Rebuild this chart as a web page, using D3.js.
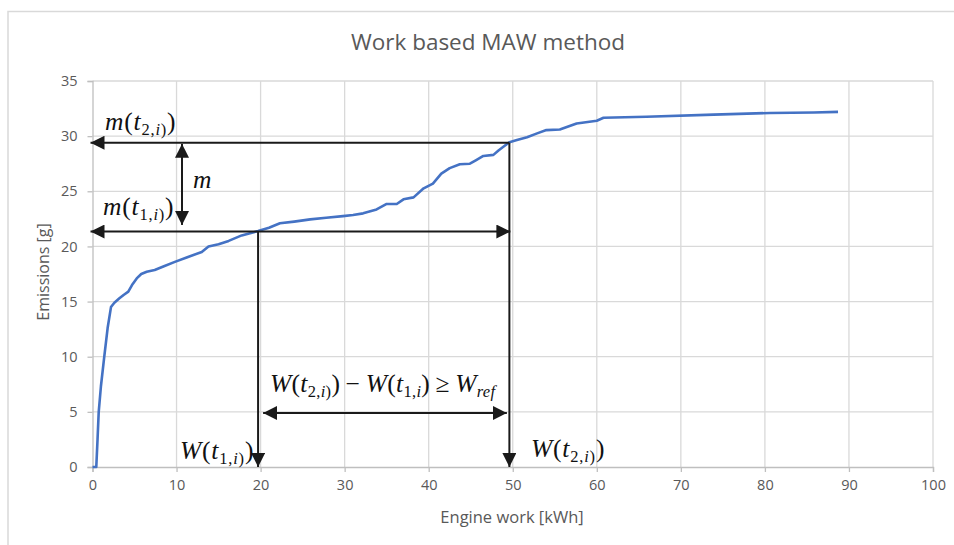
<!DOCTYPE html>
<html><head><meta charset="utf-8">
<script src="https://cdn.jsdelivr.net/npm/d3@7"></script>
<style>body{margin:0;background:#fff}</style>
</head><body>
<svg id="chart" width="954" height="545"></svg>
<script>
// Cumulative engine work [kWh] and cumulative emissions [g]
const workKWh = [0, 0.45, 0.6, 0.74, 1.0, 1.4, 1.8, 2.2, 2.6, 3.2, 3.7, 4.26, 4.7, 5.26, 5.8, 6.45, 7.4, 8.5, 9.8, 11.2, 13.0, 13.8, 15.0, 16.2, 17.75, 19.7,
  21.0, 22.3, 24.0, 25.9, 27.8, 29.8, 31.0, 32.2, 33.8, 35.0, 36.2, 37.0, 38.2, 39.4, 40.5, 41.5, 42.5, 43.7, 44.9, 45.6, 46.5, 47.7, 48.3, 49.0, 49.6,
  50.5, 51.7, 52.9, 54.0, 55.6, 57.6, 60.0, 60.8, 65.9, 73.9, 80.6, 85.8, 88.7];
const emissionsG = [0, 0, 2.5, 5.0, 7.3, 10.0, 12.6, 14.5, 14.9, 15.3, 15.6, 15.9, 16.5, 17.1, 17.5, 17.7, 17.86, 18.2, 18.6, 19.0, 19.5, 20.0, 20.2, 20.5, 21.0, 21.4,
  21.7, 22.1, 22.25, 22.45, 22.6, 22.75, 22.85, 23.0, 23.35, 23.85, 23.85, 24.27, 24.45, 25.27, 25.7, 26.6, 27.1, 27.45, 27.5, 27.8, 28.2, 28.3, 28.7, 29.1, 29.45,
  29.65, 29.9, 30.25, 30.55, 30.6, 31.15, 31.4, 31.67, 31.76, 31.95, 32.1, 32.15, 32.2];

const xTicks = [0, 10, 20, 30, 40, 50, 60, 70, 80, 90, 100];
const yTicks = [0, 5, 10, 15, 20, 25, 30, 35];

// Window start/end used in the annotation
const wStart = 19.7, wEnd = 49.6;      // W(t1,i), W(t2,i)
const mStart = 21.35, mEnd = 29.4;     // m(t1,i), m(t2,i)
const mArrowW = 10.65, mArrowTop = 29.3, mArrowBottom = 21.95;
const wArrowE = 4.9, wArrowFrom = 20.3, wArrowTo = 49.3;

const svg = d3.select("#chart");
const x = d3.scaleLinear().domain([0, 100]).range([92.5, 933]);
const y = d3.scaleLinear().domain([0, 35]).range([467, 81]);
const uiFont = "Open Sans, sans-serif";
const textGrey = "#595959";

// chart frame
svg.append("path").attr("d", "M8,545 V11.5 H954").attr("fill", "none")
  .attr("stroke", "#d9d9d9").attr("stroke-width", 1.5);

// title
svg.append("text").attr("x", 488).attr("y", 50).attr("text-anchor", "middle")
  .attr("font-family", uiFont).attr("font-size", 22.5).attr("fill", textGrey)
  .text("Work based MAW method");

// gridlines
const grid = svg.append("g").attr("stroke", "#d9d9d9").attr("stroke-width", 1.3);
grid.selectAll(".gx").data(xTicks.slice(1)).join("line")
  .attr("x1", d => x(d)).attr("x2", d => x(d)).attr("y1", y(35)).attr("y2", y(0));
grid.selectAll(".gy").data(yTicks.slice(1)).join("line")
  .attr("x1", x(0)).attr("x2", x(100)).attr("y1", d => y(d)).attr("y2", d => y(d));

// axes
const xAxis = svg.append("g").attr("transform", `translate(0,${y(0)})`)
  .call(d3.axisBottom(x).tickValues(xTicks).tickSize(5).tickPadding(8).tickFormat(d3.format("d")));
const yAxis = svg.append("g").attr("transform", `translate(${x(0)},0)`)
  .call(d3.axisLeft(y).tickValues(yTicks).tickSize(5).tickPadding(10).tickFormat(d3.format("d")));
[xAxis, yAxis].forEach(a => {
  a.select(".domain").attr("stroke", "#bfbfbf").attr("stroke-width", 1.3);
  a.selectAll(".tick line").attr("stroke", "#bfbfbf").attr("stroke-width", 1.3);
  a.selectAll(".tick text").attr("fill", textGrey).attr("font-size", 14.5)
    .attr("font-family", uiFont);
});

svg.append("text").attr("x", 512).attr("y", 523).attr("text-anchor", "middle")
  .attr("font-family", uiFont).attr("font-size", 16.5).attr("fill", textGrey)
  .text("Engine work [kWh]");
svg.append("text").attr("transform", "translate(49,272) rotate(-90)").attr("text-anchor", "middle")
  .attr("font-family", uiFont).attr("font-size", 16).attr("fill", textGrey)
  .text("Emissions [g]");

// emissions curve
const pts = workKWh.map((w, i) => [w, emissionsG[i]]);
svg.append("path").datum(pts)
  .attr("fill", "none").attr("stroke", "#4472c4").attr("stroke-width", 2.6)
  .attr("stroke-linejoin", "round")
  .attr("d", d3.line().x(d => x(d[0])).y(d => y(d[1])));

// arrowhead
svg.append("defs").append("marker").attr("id", "head")
  .attr("viewBox", "0 0 10 10").attr("refX", 10).attr("refY", 5)
  .attr("markerUnits", "userSpaceOnUse").attr("markerWidth", 14).attr("markerHeight", 14)
  .attr("orient", "auto-start-reverse")
  .append("path").attr("d", "M0,0 L10,5 L0,10 Z").attr("fill", "#1a1a1a");

const ann = svg.append("g").attr("stroke", "#1a1a1a").attr("stroke-width", 2).attr("fill", "none");
function seg(x1, y1, x2, y2, start, end) {
  const l = ann.append("line").attr("x1", x1).attr("y1", y1).attr("x2", x2).attr("y2", y2);
  if (start) l.attr("marker-start", "url(#head)");
  if (end) l.attr("marker-end", "url(#head)");
}
// m(t2,i) level back to the axis
seg(x(wEnd), y(mEnd), x(0) - 2, y(mEnd), false, true);
// m(t1,i) level, both directions
seg(x(0) - 2, y(mStart), x(wEnd) + 1, y(mStart), true, true);
// W(t2,i) drop
seg(x(wEnd), y(mEnd), x(wEnd), y(0), false, true);
// W(t1,i) drop
seg(x(wStart), y(mStart), x(wStart), y(0), false, true);
// emitted mass span
seg(x(mArrowW), y(mArrowTop), x(mArrowW), y(mArrowBottom), true, true);
// work span
seg(x(wArrowFrom), y(wArrowE), x(wArrowTo), y(wArrowE), true, true);

// math labels: each part is [text, kind]; kinds "s"/"is" sit on the subscript line
const mathFont = "Liberation Serif, DejaVu Serif, serif";
function mathLabel(px, py, parts, spacing = 0.8) {
  const t = svg.append("text").attr("x", px).attr("y", py)
    .attr("font-family", mathFont).attr("font-size", 25.5).attr("fill", "#111")
    .attr("letter-spacing", spacing);
  let shift = 0;
  parts.forEach(([txt, kind]) => {
    const isSub = kind === "s" || kind === "is";
    const target = isSub ? 5 : 0;
    const s = t.append("tspan").text(txt).attr("dy", target - shift);
    shift = target;
    if (kind === "i" || kind === "is") s.attr("font-style", "italic");
    if (isSub) s.attr("font-size", 16.5);
  });
}
mathLabel(105, 130, [["m", "i"], ["(", "n"], ["t", "i"], ["2,", "s"], ["i", "is"], [")", "s"], [")", "n"]]);
mathLabel(103, 215, [["m", "i"], ["(", "n"], ["t", "i"], ["1,", "s"], ["i", "is"], [")", "s"], [")", "n"]]);
mathLabel(193, 188, [["m", "i"]]);
mathLabel(180, 459, [["W", "i"], ["(", "n"], ["t", "i"], ["1,", "s"], ["i", "is"], [")", "s"], [")", "n"]]);
mathLabel(531, 457, [["W", "i"], ["(", "n"], ["t", "i"], ["2,", "s"], ["i", "is"], [")", "s"], [")", "n"]]);
mathLabel(270, 392, [["W", "i"], ["(", "n"], ["t", "i"], ["2,", "s"], ["i", "is"], [")", "s"], [")", "n"],
  ["\u2009−\u2009", "n"], ["W", "i"], ["(", "n"], ["t", "i"], ["1,", "s"], ["i", "is"], [")", "n"],
  ["\u2009≥\u2009", "n"], ["W", "i"], ["ref", "is"]], 0.3);
</script>
</body></html>
